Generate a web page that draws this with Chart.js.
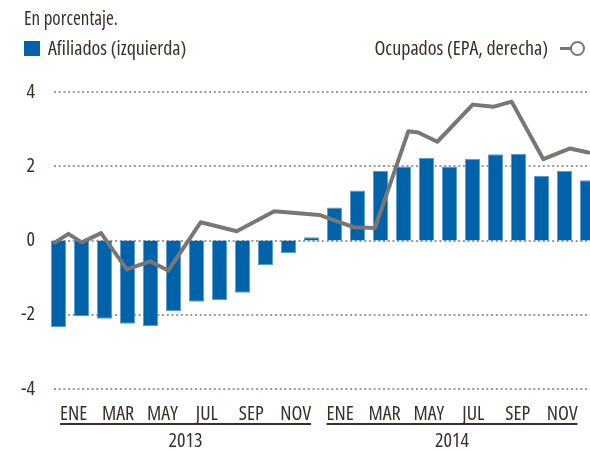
<!DOCTYPE html>
<html>
<head>
<meta charset="utf-8">
<script src="https://cdn.jsdelivr.net/npm/chart.js@4"></script>
<style>
    body { margin: 0; width: 590px; height: 451px; overflow: hidden; position: relative; background: #fff; }
    #wrap { position: absolute; left: 0; top: 0; width: 599px; height: 451px; }
    .txt { position: absolute; font-family: "Open Sans", sans-serif; font-stretch: condensed; color: #3a2f28; white-space: nowrap; line-height: 24px; }
    #sub { left: 24px; top: 6px; font-size: 19px; }
    #legA { left: 24px; top: 36px; font-size: 20px; }
    #legA .box { display: inline-block; width: 16px; height: 15px; background: #0063a9; margin-right: 8px; vertical-align: -1px; }
    #legB { right: 0; top: 36px; font-size: 20px; }
    #legB .mk { display: inline-block; position: relative; width: 36px; height: 14px; vertical-align: -1px; margin-left: 6px; }
    #legB .mk i { position: absolute; left: 6px; top: 5px; width: 12px; height: 3px; background: #7a7673; }
    #legB .mk b { position: absolute; left: 16px; top: -1px; width: 11px; height: 11px; border: 2.5px solid #7a7673; border-radius: 50%; background: #fff; }
</style>
</head>
<body>
<div id="wrap"><canvas id="grafico" width="599" height="451"></canvas></div>
<div class="txt" id="sub">En porcentaje.</div>
<div class="txt" id="legA"><span class="box"></span>Afiliados (izquierda)</div>
<div class="txt" id="legB">Ocupados (EPA, derecha)<span class="mk"><i></i><b></b></span></div>
<script>
// Meses (ene 2013 - dic 2014)
const meses = [
    "ene13", "feb13", "mar13", "abr13", "may13", "jun13", "jul13", "ago13", "sep13", "oct13", "nov13", "dic13",
    "ene14", "feb14", "mar14", "abr14", "may14", "jun14", "jul14", "ago14", "sep14", "oct14", "nov14", "dic14"
];

// Afiliados, variación en %
const afiliados = [
    -2.33, -2.04, -2.11, -2.24, -2.30, -1.90, -1.65, -1.60, -1.41, -0.66, -0.34, 0.09,
    0.89, 1.35, 1.87, 1.99, 2.22, 1.99, 2.20, 2.32, 2.33, 1.74, 1.87, 1.62
];

// Ocupados EPA: posición en meses (índice) y valor
const ocupadosMes = [
    -0.15, 0.43, 1.01, 1.85, 2.97, 3.98, 4.77, 6.18, 7.75, 9.38, 11.34,
    12.82, 13.76, 15.21, 15.64, 16.47, 18.01, 18.90, 19.70, 21.08, 22.24, 23.03
];
const ocupados = [
    -0.05, 0.18, -0.05, 0.20, -0.78, -0.56, -0.81, 0.49, 0.25, 0.79, 0.69,
    0.36, 0.34, 2.94, 2.91, 2.66, 3.66, 3.60, 3.74, 2.19, 2.48, 2.37
];

// Etiquetas del eje x
const etiquetasMes = ["ENE", "MAR", "MAY", "JUL", "SEP", "NOV", "ENE", "MAR", "MAY", "JUL", "SEP", "NOV"];
const anios = ["2013", "2014"];

const fuente = '"Open Sans", sans-serif';
const colorTexto = '#3a2f28';

// Líneas de cuadrícula punteadas
const cuadricula = {
    id: 'cuadricula',
    beforeDatasetsDraw(chart) {
        const { ctx, chartArea } = chart;
        const y = chart.scales.y;
        ctx.save();
        ctx.strokeStyle = '#9a9a9a';
        ctx.lineWidth = 2;
        ctx.setLineDash([2, 2.7]);
        y.ticks.forEach(t => {
            const py = Math.round(y.getPixelForValue(t.value));
            ctx.beginPath();
            ctx.moveTo(chartArea.left + 7, py);
            ctx.lineTo(chartArea.right, py);
            ctx.stroke();
        });
        ctx.restore();
    }
};

// Subrayado y años bajo las etiquetas
const aniosPlugin = {
    id: 'anios',
    afterDraw(chart) {
        const { ctx } = chart;
        const xm = chart.scales.xm;
        ctx.save();
        ctx.font = 'condensed 20px ' + fuente;
        ctx.fillStyle = colorTexto;
        ctx.strokeStyle = colorTexto;
        ctx.lineWidth = 2;
        ctx.textAlign = 'center';
        ctx.textBaseline = 'middle';
        anios.forEach((anio, k) => {
            const i0 = k * 6, i1 = k * 6 + 5;
            const x0 = xm.getPixelForValue(i0) - ctx.measureText(etiquetasMes[i0]).width / 2;
            const x1 = xm.getPixelForValue(i1) + ctx.measureText(etiquetasMes[i1]).width / 2;
            const yl = xm.top + 35;
            ctx.beginPath();
            ctx.moveTo(x0, yl);
            ctx.lineTo(x1, yl);
            ctx.stroke();
            ctx.fillText(anio, (x0 + x1) / 2, yl + 17);
        });
        ctx.restore();
    }
};

const ctx = document.getElementById('grafico').getContext('2d');

new Chart(ctx, {
    data: {
        labels: meses,
        datasets: [
            {
                type: 'line',
                label: 'Ocupados (EPA, derecha)',
                data: ocupadosMes.map((m, i) => ({ x: m, y: ocupados[i] })),
                xAxisID: 'xl',
                borderColor: '#7a7673',
                borderWidth: 4,
                borderJoinStyle: 'round',
                borderCapStyle: 'round',
                pointRadius: 0,
                tension: 0,
                order: 0
            },
            {
                type: 'bar',
                label: 'Afiliados (izquierda)',
                data: afiliados,
                xAxisID: 'x',
                backgroundColor: '#0063a9',
                borderColor: '#5b9bd0',
                borderWidth: 1,
                grouped: false,
                barPercentage: 0.66,
                categoryPercentage: 1,
                order: 1
            }
        ]
    },
    options: {
        responsive: false,
        animation: false,
        layout: { padding: { top: 92, right: 0, bottom: 0, left: 0 } },
        plugins: { legend: { display: false }, tooltip: { enabled: false } },
        scales: {
            x: { display: false, offset: true },
            xl: { type: 'linear', display: false, min: -0.5, max: 23.5 },
            xm: {
                type: 'linear',
                position: 'bottom',
                min: -0.6, // alineado con las etiquetas originales
                max: 11.83,
                grid: { display: false },
                border: { display: false },
                afterBuildTicks: scale => {
                    scale.ticks = etiquetasMes.map((_, i) => ({ value: i }));
                },
                afterFit: scale => { scale.height = 62; },
                ticks: {
                    autoSkip: false,
                    maxRotation: 0,
                    padding: 5,
                    color: colorTexto,
                    font: { family: fuente, size: 20, weight: 'condensed' },
                    callback: (v, i) => etiquetasMes[i]
                }
            },
            y: {
                min: -4,
                max: 4,
                grid: { display: false },
                border: { display: false },
                afterFit: scale => { scale.width = 47; },
                ticks: {
                    stepSize: 2,
                    padding: 4,
                    color: colorTexto,
                    font: { family: fuente, size: 20, weight: 'condensed' }
                }
            }
        }
    },
    plugins: [cuadricula, aniosPlugin]
});
</script>
</body>
</html>
